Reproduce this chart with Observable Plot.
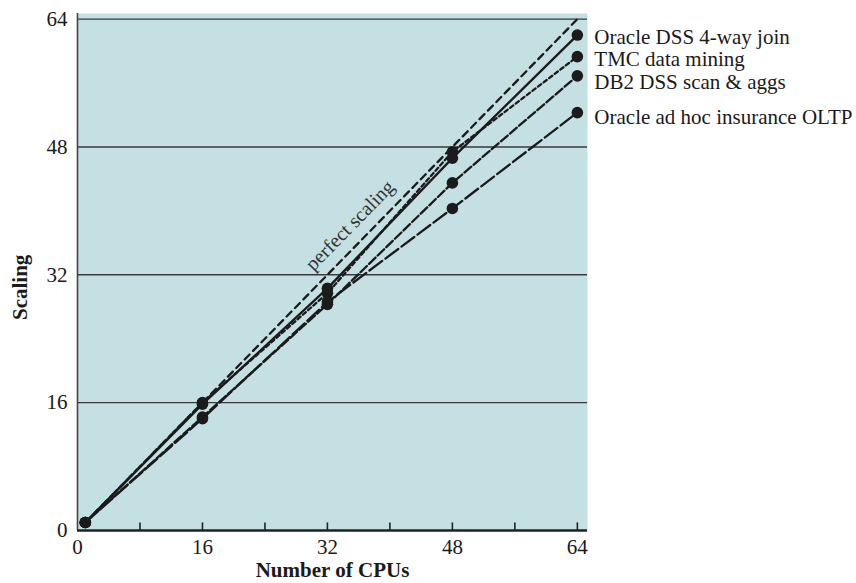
<!DOCTYPE html>
<html>
<head>
<meta charset="utf-8">
<script src="https://cdn.jsdelivr.net/npm/d3@7"></script>
<script src="https://cdn.jsdelivr.net/npm/@observablehq/plot@0.6"></script>
<style>
  html, body { margin: 0; padding: 0; background: #fff; }
</style>
</head>
<body>
<div id="chart"></div>
<script>
// CPU counts where each workload was measured
const cpus = [1, 16, 32, 48, 64];

// Series names (legend labels)
const seriesNames = [
  "Oracle DSS 4-way join",
  "TMC data mining",
  "DB2 DSS scan & aggs",
  "Oracle ad hoc insurance OLTP"
];

// Scaling values per series
const oracleDSS = [1, 15.8, 30.3, 46.6, 62.0];
const tmcMining = [1, 16.0, 29.7, 47.4, 59.3];
const db2DSS    = [1, 14.2, 28.3, 43.5, 56.9];
const oracleOLTP = [1, 14.0, 28.6, 40.3, 52.3];

// Perfect scaling reference line
const perfectX = [1, 64];
const perfectLabel = "perfect scaling";

// Axis ticks
const yTicks = [0, 16, 32, 48, 64];
const xLabelTicks = [0, 16, 32, 48, 64];
const xMarkTicks = [8, 16, 24, 32, 40, 48, 56, 64];

const seriesValues = [oracleDSS, tmcMining, db2DSS, oracleOLTP];
const dashes = ["none", "4,3", "9,3", "16,4"];
const labelNudge = [2, 3, 6, 5];

const rows = [];
seriesNames.forEach((name, i) => {
  cpus.forEach((c, j) => rows.push({series: name, idx: i, x: c, y: seriesValues[i][j]}));
});
const perfect = perfectX.map(v => ({x: v, y: v}));
const lastPoints = seriesNames.map((name, i) => ({series: name, x: cpus[cpus.length - 1], y: seriesValues[i][cpus.length - 1]}));

const ink = "#1b1b1b";

const marks = [
  Plot.frame({fill: "#c5e0e2", stroke: null}),
  Plot.ruleY(yTicks.filter(d => d > 0), {stroke: "#3a3a3a", strokeWidth: 1.4}),
  Plot.line(perfect, {x: "x", y: "y", stroke: ink, strokeWidth: 2.3, strokeDasharray: "7,5"}),
  ...seriesNames.map((name, i) =>
    Plot.line(rows.filter(r => r.idx === i), {x: "x", y: "y", stroke: ink, strokeWidth: 2.3, strokeDasharray: dashes[i]})
  ),
  Plot.dot(rows, {x: "x", y: "y", r: 5.8, fill: ink, stroke: null}),
  Plot.text([perfectLabel], {x: () => 36.5, y: () => 36.5, rotate: -45.6, dx: -8, dy: -9, fontSize: 20, fill: "#333", textAnchor: "middle", lineAnchor: "bottom"}),
  ...lastPoints.map((p, i) =>
    Plot.text([p], {x: "x", y: "y", text: "series", dx: 17, dy: labelNudge[i], textAnchor: "start", fontSize: 21, fill: "#1a1a1a"})
  ),
  Plot.ruleX([0], {stroke: "#444", strokeWidth: 1.6}),
  Plot.ruleY([0], {stroke: "#222", strokeWidth: 2.6}),
  Plot.ruleX(xMarkTicks, {y1: 0, y2: 0.95, stroke: "#222", strokeWidth: 1.6}),
  Plot.axisX({ticks: xLabelTicks, tickSize: 0, tickPadding: 9, fontSize: 21, label: null}),
  Plot.axisY({ticks: yTicks, tickSize: 0, tickPadding: 10, fontSize: 21, label: null}),
  Plot.text(["Scaling"], {frameAnchor: "left", dx: -57, dy: 48, rotate: -90, fontWeight: "bold", fontSize: 21}),
  Plot.text(["Number of CPUs"], {frameAnchor: "bottom", dy: 46, fontWeight: "bold", fontSize: 21})
];

const chart = Plot.plot({
  width: 856,
  height: 583,
  marginLeft: 77,
  marginRight: 269,
  marginTop: 13,
  marginBottom: 53,
  x: {domain: [0, 65.3]},
  y: {domain: [0, 64.7]},
  style: {fontFamily: "'Liberation Serif', 'Times New Roman', serif", fontSize: "21px", color: "#1a1a1a", background: "#fff", overflow: "visible"},
  marks
});
document.getElementById("chart").appendChild(chart);
</script>
</body>
</html>
